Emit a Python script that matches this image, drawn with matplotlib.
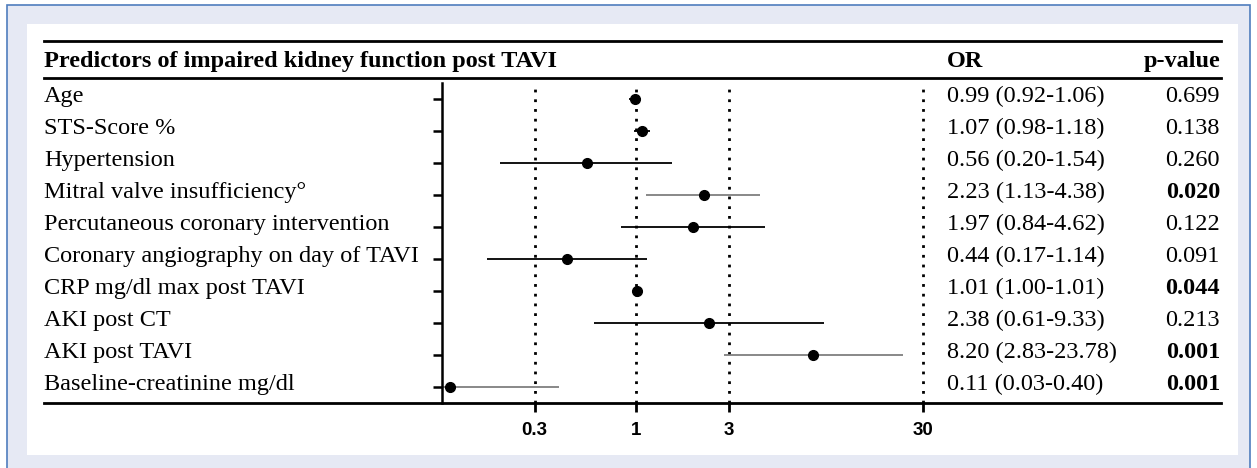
import numpy as np
import matplotlib
matplotlib.use("Agg")
import matplotlib.pyplot as plt
from matplotlib.patches import Rectangle
from matplotlib.lines import Line2D
from matplotlib.transforms import blended_transform_factory

######## DATA

labels = ["Age", "STS-Score %", "Hypertension", "Mitral valve insufficiency\u00b0",
          "Percutaneous coronary intervention", "Coronary angiography on day of TAVI",
          "CRP mg/dl max post TAVI", "AKI post CT", "AKI post TAVI",
          "Baseline-creatinine mg/dl"]
odds = [0.99, 1.07, 0.56, 2.23, 1.97, 0.44, 1.01, 2.38, 8.20, 0.11]
ci_low = [0.92, 0.98, 0.20, 1.13, 0.84, 0.17, 1.00, 0.61, 2.83, 0.03]
ci_high = [1.06, 1.18, 1.54, 4.38, 4.62, 1.14, 1.01, 9.33, 23.78, 0.40]
or_text = ["0.99 (0.92-1.06)", "1.07 (0.98-1.18)", "0.56 (0.20-1.54)", "2.23 (1.13-4.38)",
           "1.97 (0.84-4.62)", "0.44 (0.17-1.14)", "1.01 (1.00-1.01)", "2.38 (0.61-9.33)",
           "8.20 (2.83-23.78)", "0.11 (0.03-0.40)"]
p_text = ["0.699", "0.138", "0.260", "0.020", "0.122", "0.091", "0.044", "0.213", "0.001", "0.001"]
p_bold = [False, False, False, True, False, False, True, False, True, True]
ref_lines = [0.3, 1, 3, 30]
tick_labels = ["0.3", "1", "3", "30"]

# lighter CI lines in the original
ci_color = ["black", "black", "black", "#7f7f7f", "black", "black", "black", "black", "#7f7f7f", "#7f7f7f"]

W, H = 1257, 468
SERIF = ["Liberation Serif", "DejaVu Serif"]
SANS = ["Liberation Sans", "DejaVu Sans"]
ROW_FS = 17.5
HEAD_FS = 17.5

def fx(x):
    return x / W

def fy(y):
    return 1 - y / H

######## FIGURE + FRAME

fig = plt.figure(figsize=(W / 100, H / 100), dpi=100)
fig.patch.set_facecolor("white")

fig.add_artist(Rectangle((fx(7), fy(475)), fx(1250) - fx(7), fy(5) - fy(475),
                         transform=fig.transFigure, facecolor="#e6e9f4",
                         edgecolor="#4f7dbd", linewidth=1.2, zorder=0))
fig.add_artist(Rectangle((fx(27), fy(455)), fx(1238) - fx(27), fy(24) - fy(455),
                         transform=fig.transFigure, facecolor="white",
                         edgecolor="none", zorder=0.5))

# header rules and bottom rule
for yy in [40.5, 78, 403]:
    fig.add_artist(Line2D([fx(44), fx(1221)], [fy(yy), fy(yy)], transform=fig.transFigure,
                          color="black", linewidth=2.0, zorder=3))

fig.text(fx(44), fy(67), "Predictors of impaired kidney function post TAVI", family=SERIF,
         fontsize=HEAD_FS, fontweight="bold", va="baseline", ha="left")
fig.text(fx(947), fy(67), "OR", family=SERIF, fontsize=HEAD_FS, fontweight="bold",
         va="baseline", ha="left")
fig.text(fx(1220), fy(67), "p-value", family=SERIF, fontsize=HEAD_FS, fontweight="bold",
         va="baseline", ha="right")

######## FOREST PLOT

ax = fig.add_axes([fx(442), fy(403), fx(1218) - fx(442), fy(83) - fy(403)])
ax.set_facecolor("none")
ax.set_zorder(2)
ax.set_xscale("log")
ax.set_xlim(0.1, 1000)
n = len(labels)
rows = np.arange(n)
ax.set_ylim(n - 0.5, -0.5)

for v in ref_lines:
    ax.axvline(v, color="black", linewidth=2.0, linestyle=(0, (1, 2.5)), zorder=1)

for i in range(n):
    ax.plot([ci_low[i], ci_high[i]], [rows[i], rows[i]], color=ci_color[i],
            linewidth=1.3, solid_capstyle="butt", zorder=2, clip_on=True)
ax.plot(odds, rows, "o", color="black", markersize=7, zorder=3)

for s in ["top", "right", "bottom"]:
    ax.spines[s].set_visible(False)
ax.spines["left"].set_linewidth(1.8)

ax.set_yticks(rows)
ax.set_yticklabels([])
ax.tick_params(axis="y", length=6.5, width=1.8, direction="out")
ax.set_xticks(ref_lines)
ax.set_xticklabels(tick_labels)
ax.xaxis.set_minor_locator(matplotlib.ticker.NullLocator())
ax.tick_params(axis="x", length=6.5, width=2.0, direction="out", pad=7)
for t in ax.get_xticklabels():
    t.set_family(SANS)
    t.set_fontweight("bold")
    t.set_fontsize(13.5)

######## TABLE TEXT

tr = blended_transform_factory(fig.transFigure, ax.transData)
for i in range(n):
    ax.text(fx(44), rows[i] + 0.1, labels[i], transform=tr, family=SERIF, fontsize=ROW_FS,
            va="baseline", ha="left", clip_on=False)
    ax.text(fx(947), rows[i] + 0.1, or_text[i], transform=tr, family=SERIF, fontsize=ROW_FS,
            va="baseline", ha="left", clip_on=False)
    ax.text(fx(1220), rows[i] + 0.1, p_text[i], transform=tr, family=SERIF, fontsize=ROW_FS,
            fontweight="bold" if p_bold[i] else "normal", va="baseline", ha="right",
            clip_on=False)

fig.savefig("out.png", dpi=100)
